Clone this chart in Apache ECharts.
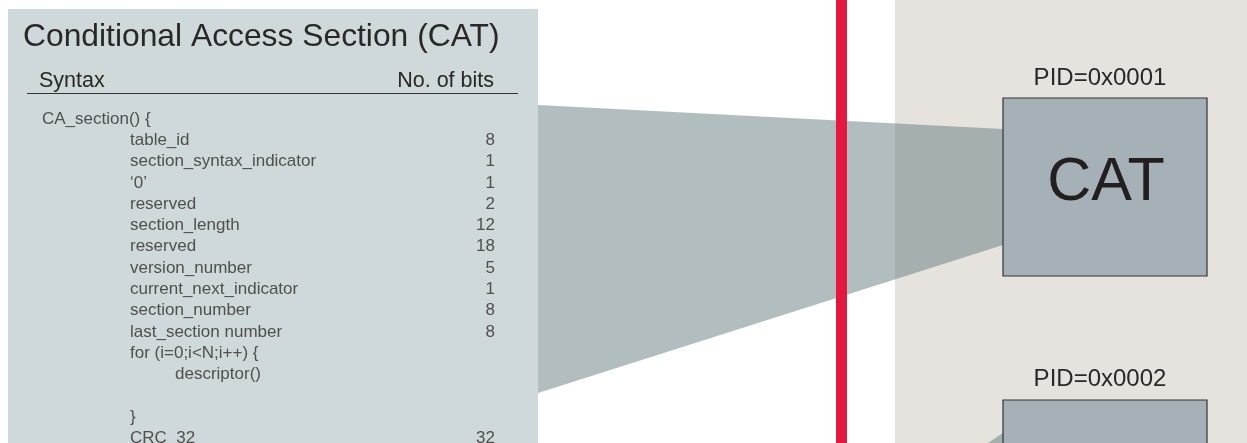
<!DOCTYPE html>
<html>
<head>
<meta charset="utf-8">
<script src="https://cdn.jsdelivr.net/npm/echarts@6/dist/echarts.min.js"></script>
<style>
html,body{margin:0;padding:0;background:#ffffff;}
#chart{width:1247px;height:443px;}
</style>
</head>
<body>
<div id="chart"></div>
<script>
// ---- data ----
const titleText = 'Conditional Access Section (CAT)';
const headerLeft = 'Syntax';
const headerRight = 'No. of bits';
const rowNames = ['CA_section() {', 'table_id', 'section_syntax_indicator', '\u20180\u2019', 'reserved',
  'section_length', 'reserved', 'version_number', 'current_next_indicator', 'section_number',
  'last_section number', 'for (i=0;i<N;i++) {', 'descriptor()', '', '}', 'CRC_32'];
const rowIndent = [0, 1, 1, 1, 1, 1, 1, 1, 1, 1, 1, 1, 2, 1, 1, 1];
const rowBits = ['', '8', '1', '1', '2', '12', '18', '5', '1', '8', '8', '', '', '', '', '32'];
const pidLabels = ['PID=0x0001', 'PID=0x0002'];
const boxLabels = ['CAT', ''];

// ---- style ----
const FONT = '"Liberation Sans", Arial, Helvetica, sans-serif';
const TXT = '#2a2727';
const indentPx = [0, 88, 133];   // column offsets within the table grid
const tableW = 453;

const chart = echarts.init(document.getElementById('chart'), null, {renderer: 'canvas'});

const nameData = [];
const bitsData = [];
rowNames.forEach((n, i) => {
  if (n) nameData.push({value: [indentPx[rowIndent[i]], i], label: {formatter: n}});
  if (rowBits[i]) bitsData.push({value: [tableW, i], label: {formatter: rowBits[i]}});
});

const graphics = [
  // left panel
  {type: 'rect', z: 0, shape: {x: 8, y: 9, width: 530, height: 440}, style: {fill: '#cfd8db'}, silent: true},
  // right beige panel
  {type: 'rect', z: 0, shape: {x: 895, y: 0, width: 352, height: 443}, style: {fill: '#e6e3df'}, silent: true},
  // projection polygon
  {type: 'polygon', z: 1, shape: {points: [[538, 105], [1003, 129], [1003, 245], [538, 393]]},
   style: {fill: 'rgba(101,123,127,0.5)'}, silent: true},
  {type: 'polygon', z: 1, shape: {points: [[958, 463], [1003, 433], [1003, 463]]},
   style: {fill: 'rgba(101,123,127,0.5)'}, silent: true},
  // red line
  {type: 'rect', z: 3, shape: {x: 836, y: 0, width: 11, height: 443}, style: {fill: '#e4173e'}, silent: true},
  // boxes
  {type: 'rect', z: 4, shape: {x: 1003, y: 98, width: 204, height: 178},
   style: {fill: '#a5b1b6', stroke: '#333333', lineWidth: 1.2}, silent: true},
  {type: 'rect', z: 4, shape: {x: 1003, y: 400, width: 204, height: 60},
   style: {fill: '#a5b1b6', stroke: '#333333', lineWidth: 1.2}, silent: true},
  // texts
  {type: 'text', z: 5, x: 23, y: 37, style: {text: titleText, font: '31.8px ' + FONT, fill: TXT, textVerticalAlign: 'middle'}},
  {type: 'text', z: 5, x: 39, y: 81, style: {text: headerLeft, font: '21.5px ' + FONT, fill: TXT, textVerticalAlign: 'middle'}},
  {type: 'text', z: 5, x: 494, y: 81, style: {text: headerRight, font: '21.5px ' + FONT, fill: TXT, textAlign: 'right', textVerticalAlign: 'middle'}},
  {type: 'line', z: 5, shape: {x1: 27, y1: 93.5, x2: 518, y2: 93.5}, style: {stroke: '#333333', lineWidth: 1.2}},
  {type: 'text', z: 5, x: 1100, y: 78, style: {text: pidLabels[0], font: '24px ' + FONT, fill: TXT, textAlign: 'center', textVerticalAlign: 'middle'}},
  {type: 'text', z: 5, x: 1100, y: 379, style: {text: pidLabels[1], font: '24px ' + FONT, fill: TXT, textAlign: 'center', textVerticalAlign: 'middle'}},
  {type: 'text', z: 6, x: 1106, y: 183, style: {text: boxLabels[0], font: '61px ' + FONT, fill: '#231f20', textAlign: 'center', textVerticalAlign: 'middle'}}
];

const labelCommon = {show: true, color: '#2f2c2c', fontFamily: FONT, fontSize: 17, distance: 0};

chart.setOption({
  animation: false,
  backgroundColor: '#ffffff',
  graphic: graphics,
  grid: {left: 42, top: 119, width: tableW, height: 15 * 21.3, containLabel: false, z: 5},
  xAxis: {type: 'value', min: 0, max: tableW, show: false},
  yAxis: {type: 'value', min: 0, max: 15, inverse: true, show: false},
  series: [
    {type: 'scatter', z: 10, symbolSize: 0, silent: true, data: nameData,
     label: Object.assign({position: 'right', align: 'left', verticalAlign: 'middle'}, labelCommon)},
    {type: 'scatter', z: 10, symbolSize: 0, silent: true, data: bitsData,
     label: Object.assign({position: 'left', align: 'right', verticalAlign: 'middle'}, labelCommon)}
  ]
});
</script>
</body>
</html>
